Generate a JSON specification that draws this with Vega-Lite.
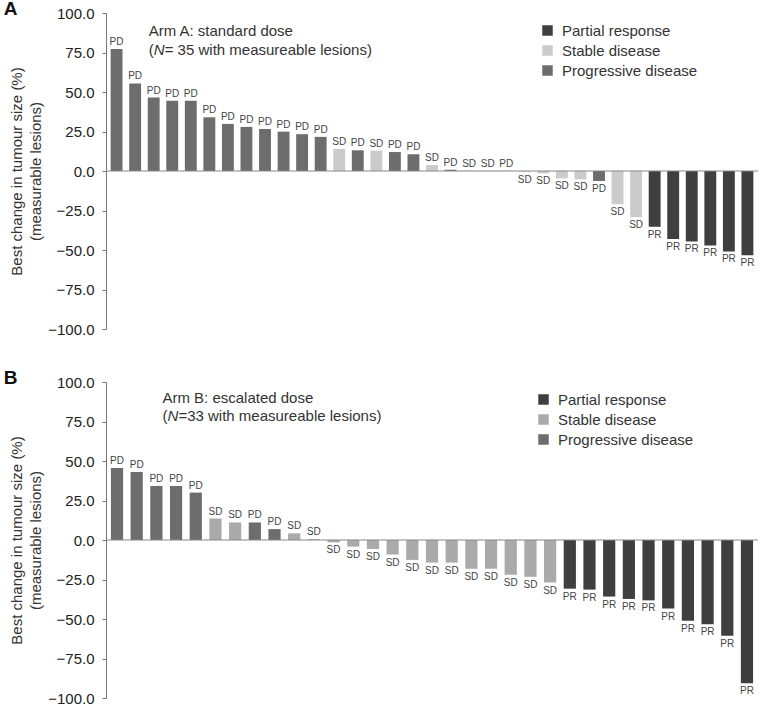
{
  "$schema": "https://vega.github.io/schema/vega-lite/v6.json",
  "padding": {"left": 3, "top": 0, "right": 0, "bottom": 0},
  "spacing": 32,
  "config": {
    "font": "Liberation Sans",
    "view": {"stroke": null},
    "axis": {"labelFontSize": 15, "titleFontSize": 15, "labelColor": "#222", "titleColor": "#333", "titleFontWeight": "normal", "domainColor": "#777", "tickColor": "#777", "grid": false, "tickSize": 4, "labelPadding": 8, "titlePadding": 4, "titleLineHeight": 19},
    "legend": {"orient": "none", "title": null, "symbolType": "square", "symbolSize": 110, "symbolStrokeWidth": 0, "labelFontSize": 15, "labelColor": "#333", "rowPadding": 4, "padding": 0, "labelOffset": 7},
    "title": {"fontSize": 19, "fontWeight": "bold", "anchor": "start", "frame": "bounds", "color": "#111", "offset": -13, "dx": -6}
  },
  "resolve": {"scale": {"color": "independent", "y": "independent", "x": "independent"}, "legend": {"color": "independent"}},
  "vconcat": [
    {
      "title": {"text": "A"},
      "width": 652,
      "height": 316,
      "data": {"values": [
        {"id": 1, "response": "Progressive disease", "label": "PD", "change": 77.2},
        {"id": 2, "response": "Progressive disease", "label": "PD", "change": 55.4},
        {"id": 3, "response": "Progressive disease", "label": "PD", "change": 46.5},
        {"id": 4, "response": "Progressive disease", "label": "PD", "change": 44.4},
        {"id": 5, "response": "Progressive disease", "label": "PD", "change": 44.4},
        {"id": 6, "response": "Progressive disease", "label": "PD", "change": 34.0},
        {"id": 7, "response": "Progressive disease", "label": "PD", "change": 29.8},
        {"id": 8, "response": "Progressive disease", "label": "PD", "change": 27.9},
        {"id": 9, "response": "Progressive disease", "label": "PD", "change": 26.6},
        {"id": 10, "response": "Progressive disease", "label": "PD", "change": 24.9},
        {"id": 11, "response": "Progressive disease", "label": "PD", "change": 23.3},
        {"id": 12, "response": "Progressive disease", "label": "PD", "change": 21.6},
        {"id": 13, "response": "Stable disease", "label": "SD", "change": 14.0},
        {"id": 14, "response": "Progressive disease", "label": "PD", "change": 13.1},
        {"id": 15, "response": "Stable disease", "label": "SD", "change": 12.9},
        {"id": 16, "response": "Progressive disease", "label": "PD", "change": 12.0},
        {"id": 17, "response": "Progressive disease", "label": "PD", "change": 10.6},
        {"id": 18, "response": "Stable disease", "label": "SD", "change": 3.8},
        {"id": 19, "response": "Progressive disease", "label": "PD", "change": 0.8},
        {"id": 20, "response": "Stable disease", "label": "SD", "change": 0.3},
        {"id": 21, "response": "Stable disease", "label": "SD", "change": 0.2},
        {"id": 22, "response": "Progressive disease", "label": "PD", "change": 0.1},
        {"id": 23, "response": "Stable disease", "label": "SD", "change": -0.4},
        {"id": 24, "response": "Stable disease", "label": "SD", "change": -1.5},
        {"id": 25, "response": "Stable disease", "label": "SD", "change": -4.7},
        {"id": 26, "response": "Stable disease", "label": "SD", "change": -5.3},
        {"id": 27, "response": "Progressive disease", "label": "PD", "change": -6.3},
        {"id": 28, "response": "Stable disease", "label": "SD", "change": -21.1},
        {"id": 29, "response": "Stable disease", "label": "SD", "change": -29.2},
        {"id": 30, "response": "Partial response", "label": "PR", "change": -35.3},
        {"id": 31, "response": "Partial response", "label": "PR", "change": -43.1},
        {"id": 32, "response": "Partial response", "label": "PR", "change": -44.6},
        {"id": 33, "response": "Partial response", "label": "PR", "change": -47.1},
        {"id": 34, "response": "Partial response", "label": "PR", "change": -50.9},
        {"id": 35, "response": "Partial response", "label": "PR", "change": -53.3}
      ]},
      "encoding": {
        "x": {"field": "id", "type": "ordinal", "axis": null, "scale": {"paddingInner": 0.36, "paddingOuter": 0.25}},
        "y": {"field": "change", "type": "quantitative", "scale": {"domain": [-100, 100], "nice": false},
              "axis": {"values": [-100, -75, -50, -25, 0, 25, 50, 75, 100], "format": ".1f", "title": ["Best change in tumour size (%)", "(measurable lesions)"]}}
      },
      "layer": [
        {"mark": {"type": "bar"},
         "encoding": {"color": {"field": "response", "type": "nominal",
            "scale": {"domain": ["Partial response", "Stable disease", "Progressive disease"], "range": ["#3f3f3f", "#cbcbcb", "#6d6d6d"]},
            "legend": {"legendX": 434, "legendY": 10}}}},
        {"transform": [{"filter": "datum.change >= 0"}],
         "mark": {"type": "text", "baseline": "bottom", "dy": -2, "fontSize": 10, "color": "#444"},
         "encoding": {"text": {"field": "label"}}},
        {"transform": [{"filter": "datum.change < 0"}],
         "mark": {"type": "text", "baseline": "top", "dy": 3, "fontSize": 10, "color": "#444"},
         "encoding": {"text": {"field": "label"}}},
        {"data": {"values": [{"zero": 0}]},
         "mark": {"type": "rule", "color": "#888", "strokeWidth": 1.2}, "encoding": {"y": {"field": "zero", "type": "quantitative"}, "x": null}},
        {"data": {"values": [{"id": 3, "change": 88.8, "text": "Arm A: standard dose"}]},
         "mark": {"type": "text", "align": "left", "baseline": "middle", "dx": -5, "fontSize": 15, "color": "#333"},
         "encoding": {"text": {"field": "text"}}},
        {"data": {"values": [{"id": 3, "change": 76.7, "text": "("}]},
         "mark": {"type": "text", "align": "left", "baseline": "middle", "dx": -5, "fontSize": 15, "color": "#333"},
         "encoding": {"text": {"field": "text"}}},
        {"data": {"values": [{"id": 3, "change": 76.7, "text": "N"}]},
         "mark": {"type": "text", "align": "left", "baseline": "middle", "dx": 0, "fontSize": 15, "fontStyle": "italic", "color": "#333"},
         "encoding": {"text": {"field": "text"}}},
        {"data": {"values": [{"id": 3, "change": 76.7, "text": "= 35 with measureable lesions)"}]},
         "mark": {"type": "text", "align": "left", "baseline": "middle", "dx": 11, "fontSize": 15, "color": "#333"},
         "encoding": {"text": {"field": "text"}}}
      ]
    },
    {
      "title": {"text": "B"},
      "width": 652,
      "height": 316,
      "data": {"values": [
        {"id": 1, "response": "Progressive disease", "label": "PD", "change": 45.5},
        {"id": 2, "response": "Progressive disease", "label": "PD", "change": 43.0},
        {"id": 3, "response": "Progressive disease", "label": "PD", "change": 34.2},
        {"id": 4, "response": "Progressive disease", "label": "PD", "change": 34.2},
        {"id": 5, "response": "Progressive disease", "label": "PD", "change": 30.0},
        {"id": 6, "response": "Stable disease", "label": "SD", "change": 13.6},
        {"id": 7, "response": "Stable disease", "label": "SD", "change": 11.1},
        {"id": 8, "response": "Progressive disease", "label": "PD", "change": 11.1},
        {"id": 9, "response": "Progressive disease", "label": "PD", "change": 6.9},
        {"id": 10, "response": "Stable disease", "label": "SD", "change": 4.2},
        {"id": 11, "response": "Stable disease", "label": "SD", "change": 0.5},
        {"id": 12, "response": "Stable disease", "label": "SD", "change": -1.5},
        {"id": 13, "response": "Stable disease", "label": "SD", "change": -4.2},
        {"id": 14, "response": "Stable disease", "label": "SD", "change": -5.7},
        {"id": 15, "response": "Stable disease", "label": "SD", "change": -9.2},
        {"id": 16, "response": "Stable disease", "label": "SD", "change": -12.6},
        {"id": 17, "response": "Stable disease", "label": "SD", "change": -14.3},
        {"id": 18, "response": "Stable disease", "label": "SD", "change": -14.3},
        {"id": 19, "response": "Stable disease", "label": "SD", "change": -18.2},
        {"id": 20, "response": "Stable disease", "label": "SD", "change": -18.2},
        {"id": 21, "response": "Stable disease", "label": "SD", "change": -22.0},
        {"id": 22, "response": "Stable disease", "label": "SD", "change": -23.3},
        {"id": 23, "response": "Stable disease", "label": "SD", "change": -26.9},
        {"id": 24, "response": "Partial response", "label": "PR", "change": -30.8},
        {"id": 25, "response": "Partial response", "label": "PR", "change": -31.4},
        {"id": 26, "response": "Partial response", "label": "PR", "change": -35.8},
        {"id": 27, "response": "Partial response", "label": "PR", "change": -37.3},
        {"id": 28, "response": "Partial response", "label": "PR", "change": -38.2},
        {"id": 29, "response": "Partial response", "label": "PR", "change": -43.4},
        {"id": 30, "response": "Partial response", "label": "PR", "change": -51.1},
        {"id": 31, "response": "Partial response", "label": "PR", "change": -53.3},
        {"id": 32, "response": "Partial response", "label": "PR", "change": -60.6},
        {"id": 33, "response": "Partial response", "label": "PR", "change": -90.6}
      ]},
      "encoding": {
        "x": {"field": "id", "type": "ordinal", "axis": null, "scale": {"paddingInner": 0.38, "paddingOuter": 0.25}},
        "y": {"field": "change", "type": "quantitative", "scale": {"domain": [-100, 100], "nice": false},
              "axis": {"values": [-100, -75, -50, -25, 0, 25, 50, 75, 100], "format": ".1f", "title": ["Best change in tumour size (%)", "(measurable lesions)"]}}
      },
      "layer": [
        {"mark": {"type": "bar"},
         "encoding": {"color": {"field": "response", "type": "nominal",
            "scale": {"domain": ["Partial response", "Stable disease", "Progressive disease"], "range": ["#3f3f3f", "#aaaaaa", "#6d6d6d"]},
            "legend": {"legendX": 430, "legendY": 10}}}},
        {"transform": [{"filter": "datum.change >= 0"}],
         "mark": {"type": "text", "baseline": "bottom", "dy": -2, "fontSize": 10, "color": "#444"},
         "encoding": {"text": {"field": "label"}}},
        {"transform": [{"filter": "datum.change < 0"}],
         "mark": {"type": "text", "baseline": "top", "dy": 3, "fontSize": 10, "color": "#444"},
         "encoding": {"text": {"field": "label"}}},
        {"data": {"values": [{"zero": 0}]},
         "mark": {"type": "rule", "color": "#888", "strokeWidth": 1.2}, "encoding": {"y": {"field": "zero", "type": "quantitative"}, "x": null}},
        {"data": {"values": [{"id": 3, "change": 90.1, "text": "Arm B: escalated dose"}]},
         "mark": {"type": "text", "align": "left", "baseline": "middle", "dx": 6, "fontSize": 15, "color": "#333"},
         "encoding": {"text": {"field": "text"}}},
        {"data": {"values": [{"id": 3, "change": 78.6, "text": "("}]},
         "mark": {"type": "text", "align": "left", "baseline": "middle", "dx": 6, "fontSize": 15, "color": "#333"},
         "encoding": {"text": {"field": "text"}}},
        {"data": {"values": [{"id": 3, "change": 78.6, "text": "N"}]},
         "mark": {"type": "text", "align": "left", "baseline": "middle", "dx": 11, "fontSize": 15, "fontStyle": "italic", "color": "#333"},
         "encoding": {"text": {"field": "text"}}},
        {"data": {"values": [{"id": 3, "change": 78.6, "text": "=33 with measureable lesions)"}]},
         "mark": {"type": "text", "align": "left", "baseline": "middle", "dx": 22, "fontSize": 15, "color": "#333"},
         "encoding": {"text": {"field": "text"}}}
      ]
    }
  ]
}
